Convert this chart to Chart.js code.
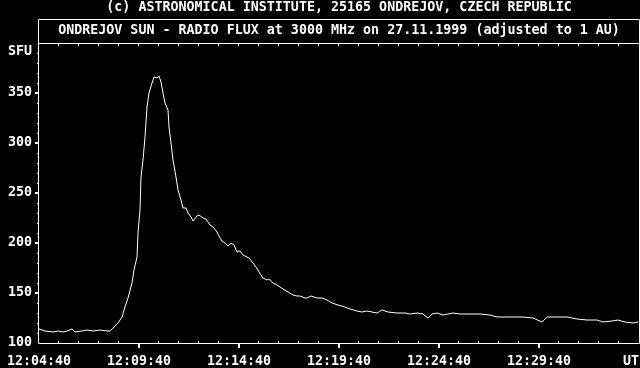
<!DOCTYPE html>
<html>
<head>
<meta charset="utf-8">
<script src="https://cdn.jsdelivr.net/npm/chart.js@4/dist/chart.umd.min.js"></script>
<style>
    html, body { margin: 0; padding: 0; background: #000; }
    canvas { display: block; }
</style>
</head>
<body>
<canvas id="fluxChart" width="640" height="368"></canvas>
<script>
// seconds after 12:04:40 UT, flux in SFU
const secs = [0, 18, 42, 57, 72, 84, 99, 108, 129, 144, 162, 183, 204, 213, 222, 237, 249, 258, 267, 279,
    285, 294, 297, 303, 306, 312, 318, 324, 330, 339, 345, 354, 360, 366, 372, 378, 387, 390, 396, 402,
    411, 417, 426, 432, 441, 447, 456, 462, 474, 480, 492, 501, 513, 522, 534, 540, 549, 558, 567, 576,
    585, 594, 603, 612, 630, 642, 651, 660, 672, 684, 690, 702, 714, 723, 732, 747, 762, 774, 783, 798,
    804, 816, 834, 849, 864, 879, 897, 918, 933, 954, 969, 984, 999, 1014, 1029, 1047, 1074, 1098, 1113, 1134,
    1152, 1167, 1179, 1194, 1212, 1242, 1263, 1293, 1323, 1353, 1374, 1392, 1422, 1452, 1482, 1509, 1524, 1554, 1584, 1614,
    1644, 1674, 1692, 1719, 1737, 1758, 1782, 1797];
const flux = [114, 112, 111, 112, 111, 112, 114, 111, 112, 113, 112, 113, 112, 112, 115, 120, 126, 136, 145, 160,
    173, 186, 210, 233, 266, 283, 306, 336, 350, 360, 366, 365, 367, 361, 350, 340, 333, 316, 300, 283,
    266, 253, 243, 235, 235, 230, 226, 222, 227, 228, 225, 224, 218, 216, 211, 207, 202, 200, 197, 200,
    198, 191, 192, 188, 185, 180, 176, 171, 165, 163, 164, 160, 158, 156, 154, 151, 148, 147, 147, 145,
    145, 147, 145, 145, 143, 140, 138, 136, 134, 132, 131, 132, 131, 130, 133, 131, 130, 130, 129, 130,
    129, 125, 129, 130, 128, 130, 129, 129, 129, 128, 126, 126, 126, 126, 125, 121, 126, 126, 126, 124,
    123, 123, 121, 122, 123, 121, 120, 121];

const xLabelTicks = [0, 300, 600, 900, 1200, 1500, 1800];
const yLabelTicks = [100, 150, 200, 250, 300, 350];
const startTime = [12, 4, 40];

const headerText = '(c) ASTRONOMICAL INSTITUTE, 25165 ONDREJOV, CZECH REPUBLIC';
const titleText = 'ONDREJOV SUN - RADIO FLUX at 3000 MHz on 27.11.1999 (adjusted to 1 AU)';

const FONT = 'bold 13.33px "DejaVu Sans Mono", monospace';

function fmtTime(s) {
    const t = startTime[0] * 3600 + startTime[1] * 60 + startTime[2] + s;
    const hh = Math.floor(t / 3600), mm = Math.floor(t / 60) % 60, ss = t % 60;
    return hh + ':' + String(mm).padStart(2, '0') + ':' + String(ss).padStart(2, '0');
}

// frame, tick marks and header text
const framePlugin = {
    id: 'frame',
    afterDraw(chart) {
        const { ctx, chartArea: a, scales: { x, y } } = chart;
        ctx.save();
        ctx.strokeStyle = '#fff';
        ctx.fillStyle = '#fff';
        ctx.lineWidth = 1;

        ctx.beginPath();
        ctx.rect(a.left - 0.5, 19.5, a.right - a.left + 1, a.bottom - 19);
        ctx.moveTo(a.left - 0.5, a.top + 0.5);
        ctx.lineTo(a.right + 0.5, a.top + 0.5);
        ctx.stroke();

        // x ticks every minute
        for (let s = 60; s < 1800; s += 60) {
            const px = Math.round(x.getPixelForValue(s));
            if (s % 300 === 0) {
                ctx.fillRect(px - 1, a.bottom + 1, 2, 4);
            } else {
                ctx.fillRect(px - 1, a.bottom - 2, 1, 2);
            }
            ctx.fillRect(px - 1, a.top + 1, 1, 2);
        }

        // y ticks every 10 SFU
        for (let v = 110; v < 400; v += 10) {
            const py = Math.round(y.getPixelForValue(v));
            if (v % 50 === 0) {
                ctx.fillRect(a.left - 4, py - 1, 3, 2);
            } else {
                ctx.fillRect(a.left - 2, py, 1, 1);
            }
        }

        ctx.font = FONT;
        ctx.textBaseline = 'middle';
        ctx.textAlign = 'center';
        const cx = (a.left + a.right) / 2;
        ctx.fillText(headerText, cx, 8);
        ctx.fillText(titleText, cx, 31);
        ctx.textAlign = 'right';
        ctx.fillText('SFU', 32, 52);
        ctx.restore();
    }
};

new Chart(document.getElementById('fluxChart'), {
    type: 'line',
    data: {
        labels: secs,
        datasets: [{
            data: secs.map((s, i) => ({ x: s, y: flux[i] })),
            borderColor: '#fff',
            borderWidth: 1,
            pointRadius: 0,
            tension: 0,
            fill: false
        }]
    },
    options: {
        responsive: false,
        devicePixelRatio: 1,
        animation: false,
        layout: { padding: { top: 43, right: 1, left: 0, bottom: 0 } },
        plugins: { legend: { display: false }, tooltip: { enabled: false } },
        scales: {
            x: {
                type: 'linear',
                min: 0,
                max: 1800,
                afterFit: (scale) => {
                    scale.height = 25;
                    scale.paddingLeft = 0;
                    scale.paddingRight = 0;
                },
                afterBuildTicks: (scale) => { scale.ticks = xLabelTicks.map(v => ({ value: v })); },
                grid: { display: false, drawTicks: false },
                border: { display: false },
                ticks: {
                    color: '#fff',
                    font: { family: '"DejaVu Sans Mono", monospace', size: 13.33, weight: 'bold' },
                    padding: 11,
                    maxRotation: 0,
                    autoSkip: false,
                    callback: (v) => v === 1800 ? 'UT  ' : fmtTime(v)
                }
            },
            y: {
                min: 100,
                max: 400,
                afterFit: (scale) => {
                    scale.width = 39;
                    scale.paddingTop = 0;
                    scale.paddingBottom = 0;
                },
                afterBuildTicks: (scale) => { scale.ticks = yLabelTicks.map(v => ({ value: v })); },
                grid: { display: false, drawTicks: false },
                border: { display: false },
                ticks: {
                    color: '#fff',
                    font: { family: '"DejaVu Sans Mono", monospace', size: 13.33, weight: 'bold' },
                    padding: 7,
                    callback: (v) => String(v)
                }
            }
        }
    },
    plugins: [framePlugin]
});
</script>
</body>
</html>
